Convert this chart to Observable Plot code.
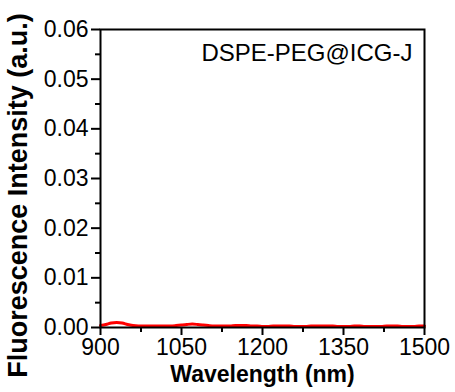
<!DOCTYPE html>
<html>
<head>
<meta charset="utf-8">
<script src="https://cdn.jsdelivr.net/npm/d3@7"></script>
<script src="https://cdn.jsdelivr.net/npm/@observablehq/plot@0.6"></script>
<style>
  html, body { margin: 0; padding: 0; background: #fff; }
  #chart svg { display: block; }
</style>
</head>
<body>
<div id="chart"></div>
<script>
const wavelength = [900, 910, 920, 930, 940, 950, 960, 970, 980, 990, 1000, 1010, 1020, 1030, 1040, 1050, 1060, 1070, 1080, 1090, 1100, 1110, 1120, 1130, 1140, 1150, 1160, 1170, 1180, 1190, 1200, 1210, 1220, 1230, 1240, 1250, 1260, 1270, 1280, 1290, 1300, 1310, 1320, 1330, 1340, 1350, 1360, 1370, 1380, 1390, 1400, 1410, 1420, 1430, 1440, 1450, 1460, 1470, 1480, 1490, 1500];
const intensity = [0.0004, 0.0006, 0.0009, 0.0010, 0.0009, 0.0006, 0.0004, 0.0003, 0.0003, 0.0003, 0.0003, 0.0003, 0.0003, 0.0003, 0.0004, 0.0005, 0.0006, 0.0007, 0.0006, 0.0005, 0.0004, 0.0003, 0.0003, 0.0003, 0.0003, 0.0004, 0.0004, 0.0004, 0.0003, 0.0003, 0.0002, 0.0002, 0.0003, 0.0003, 0.0003, 0.0003, 0.0002, 0.0002, 0.0002, 0.0003, 0.0003, 0.0003, 0.0003, 0.0003, 0.0002, 0.0002, 0.0002, 0.0003, 0.0003, 0.0002, 0.0002, 0.0002, 0.0002, 0.0003, 0.0003, 0.0003, 0.0002, 0.0002, 0.0002, 0.0003, 0.0003];
const xMajor = [900, 1050, 1200, 1350, 1500];
const xMinor = [975, 1125, 1275, 1425];
const yMajor = [0, 0.01, 0.02, 0.03, 0.04, 0.05, 0.06];
const yMinor = [0.005, 0.015, 0.025, 0.035, 0.045, 0.055];
const xTitle = "Wavelength (nm)";
const yTitle = "Fluorescence Intensity (a.u.)";
const annotation = "DSPE-PEG@ICG-J";

const data = wavelength.map((w, i) => ({w, v: intensity[i]}));

const chart = Plot.plot({
  width: 455,
  height: 392,
  marginLeft: 100,
  marginRight: 31,
  marginTop: 29,
  marginBottom: 65,
  style: {fontFamily: "'Liberation Sans', Arial, sans-serif", fontSize: "23px", color: "#000", background: "#fff"},
  x: {domain: [900, 1500]},
  y: {domain: [0, 0.06]},
  marks: [
    Plot.line(data, {x: "w", y: "v", stroke: "#f00", strokeWidth: 3, curve: "natural"}),
    Plot.axisX(xMajor, {tickSize: 8, tickPadding: 3, strokeWidth: 2, fontSize: 23, label: null, tickFormat: d => String(d)}),
    Plot.axisX(xMinor, {tickSize: 5, strokeWidth: 2, text: null, label: null}),
    Plot.axisY(yMajor, {tickSize: 9, tickPadding: 3, strokeWidth: 2, fontSize: 23, label: null, tickFormat: d3.format(".2f")}),
    Plot.axisY(yMinor, {tickSize: 5, strokeWidth: 2, text: null, label: null}),
    Plot.frame({stroke: "#000", strokeWidth: 2}),
    Plot.text([annotation], {text: d => d, frameAnchor: "top-right", dx: -12, dy: 14, fontSize: 24, textAnchor: "end", fill: "#000"}),
    Plot.text([xTitle], {text: d => d, frameAnchor: "bottom", dy: 54, fontSize: 23, fontWeight: "bold", fill: "#000"}),
    Plot.text([yTitle], {text: d => d, frameAnchor: "left", dx: -82, dy: 17, rotate: -90, textAnchor: "middle", fontSize: 27, fontWeight: "bold", fill: "#000"})
  ]
});
document.getElementById("chart").appendChild(chart);
</script>
</body>
</html>
